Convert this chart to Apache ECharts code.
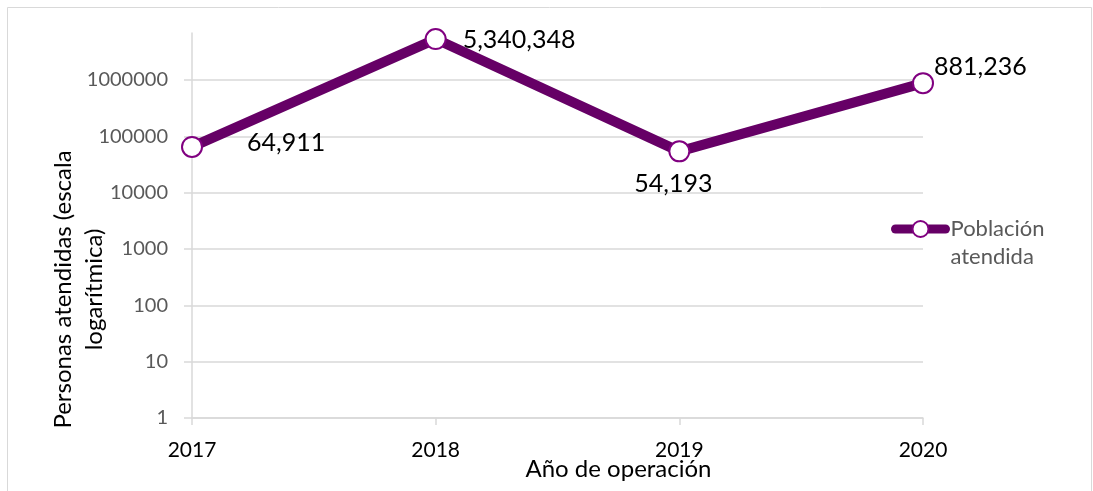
<!DOCTYPE html>
<html>
<head>
<meta charset="utf-8">
<script src="https://cdn.jsdelivr.net/npm/echarts@6/dist/echarts.min.js"></script>
<style>
  html, body { margin: 0; padding: 0; background: #fff; }
  #chart { width: 1093px; height: 491px; }
</style>
</head>
<body>
<div id="chart"></div>
<script>
// Años de operación y población atendida
const years = ['2017', '2018', '2019', '2020'];
const atendidos = [64911, 5340348, 54193, 881236];
const seriesName = 'Población\natendida';
// Ubicación de cada etiqueta de dato respecto a su punto
const labelPlacement = [
  { position: 'right', offset: [39, -4] },
  { position: 'right', offset: [11, 1] },
  { position: 'bottom', offset: [-6, 4] },
  { position: 'right', offset: [-5, -16] }
];

const FONT = 'Lato, "Open Sans", sans-serif';
const chart = echarts.init(document.getElementById('chart'));

chart.setOption({
  animation: false,
  backgroundColor: '#ffffff',
  graphic: [{
    type: 'rect',
    shape: { x: 7.5, y: 7.5, width: 1084, height: 520 },
    style: { fill: 'none', stroke: '#d9d9d9', lineWidth: 1 },
    silent: true,
    z: -1
  }],
  grid: { left: 192, right: 170, top: 33, bottom: 73, outerBoundsMode: 'none', containLabel: false },
  legend: {
    left: 886,
    top: 182,
    orient: 'vertical',
    itemWidth: 50,
    itemHeight: 20,
    itemGap: 4,
    lineStyle: { width: 9, cap: 'round' },
    // línea vacía al inicio: el icono queda alineado con «Población»
    formatter: name => '\n' + name,
    textStyle: { fontFamily: FONT, fontSize: 22, color: '#595959', lineHeight: 28 },
    data: [seriesName]
  },
  xAxis: {
    type: 'category',
    data: years,
    boundaryGap: false,
    axisLine: { lineStyle: { color: '#d9d9d9', width: 1.5 } },
    axisTick: { show: true, length: 7, lineStyle: { color: '#d9d9d9', width: 1.5 } },
    axisLabel: { fontFamily: FONT, fontSize: 21, color: '#000', margin: 22 },
    name: 'Año de operación',
    nameLocation: 'middle',
    nameGap: 39,
    nameMoveOverlap: false,
    nameTextStyle: {
      fontFamily: FONT, fontSize: 24, color: '#000',
      padding: [0, 0, 0, 122]
    }
  },
  yAxis: {
    type: 'log',
    logBase: 10,
    min: 1,
    max: 6840000,
    interval: 1,
    axisLine: { show: true, lineStyle: { color: '#d9d9d9', width: 1.5 } },
    axisTick: { show: true, length: 8, lineStyle: { color: '#d9d9d9', width: 1.5 } },
    splitLine: {
      show: true,
      lineStyle: {
        color: ['#d9d9d9', '#d9d9d9', '#d9d9d9', '#d9d9d9', '#d9d9d9', '#d9d9d9', '#d9d9d9', 'rgba(0,0,0,0)'],
        width: 1.5
      }
    },
    axisLabel: {
      fontFamily: FONT, fontSize: 20, color: '#595959', margin: 24,
      showMaxLabel: false,
      formatter: v => String(Math.round(v))
    },
    name: 'Personas atendidas (escala\nlogarítmica)',
    nameLocation: 'middle',
    nameGap: 82,
    nameMoveOverlap: false,
    nameTextStyle: {
      fontFamily: FONT, fontSize: 24, color: '#000', lineHeight: 31,
      padding: [0, 128, 0, 0]
    }
  },
  series: [{
    name: seriesName,
    type: 'line',
    data: atendidos.map((v, i) => ({
      value: v,
      label: labelPlacement[i]
    })),
    lineStyle: { color: '#660066', width: 10 },
    itemStyle: { color: '#ffffff', borderColor: '#800080', borderWidth: 2 },
    symbol: 'circle',
    symbolSize: 20,
    showAllSymbol: true,
    label: {
      show: true,
      fontFamily: FONT,
      fontSize: 25,
      color: '#000',
      formatter: p => p.value.toLocaleString('en-US')
    },
    z: 3
  }]
});
</script>
</body>
</html>
